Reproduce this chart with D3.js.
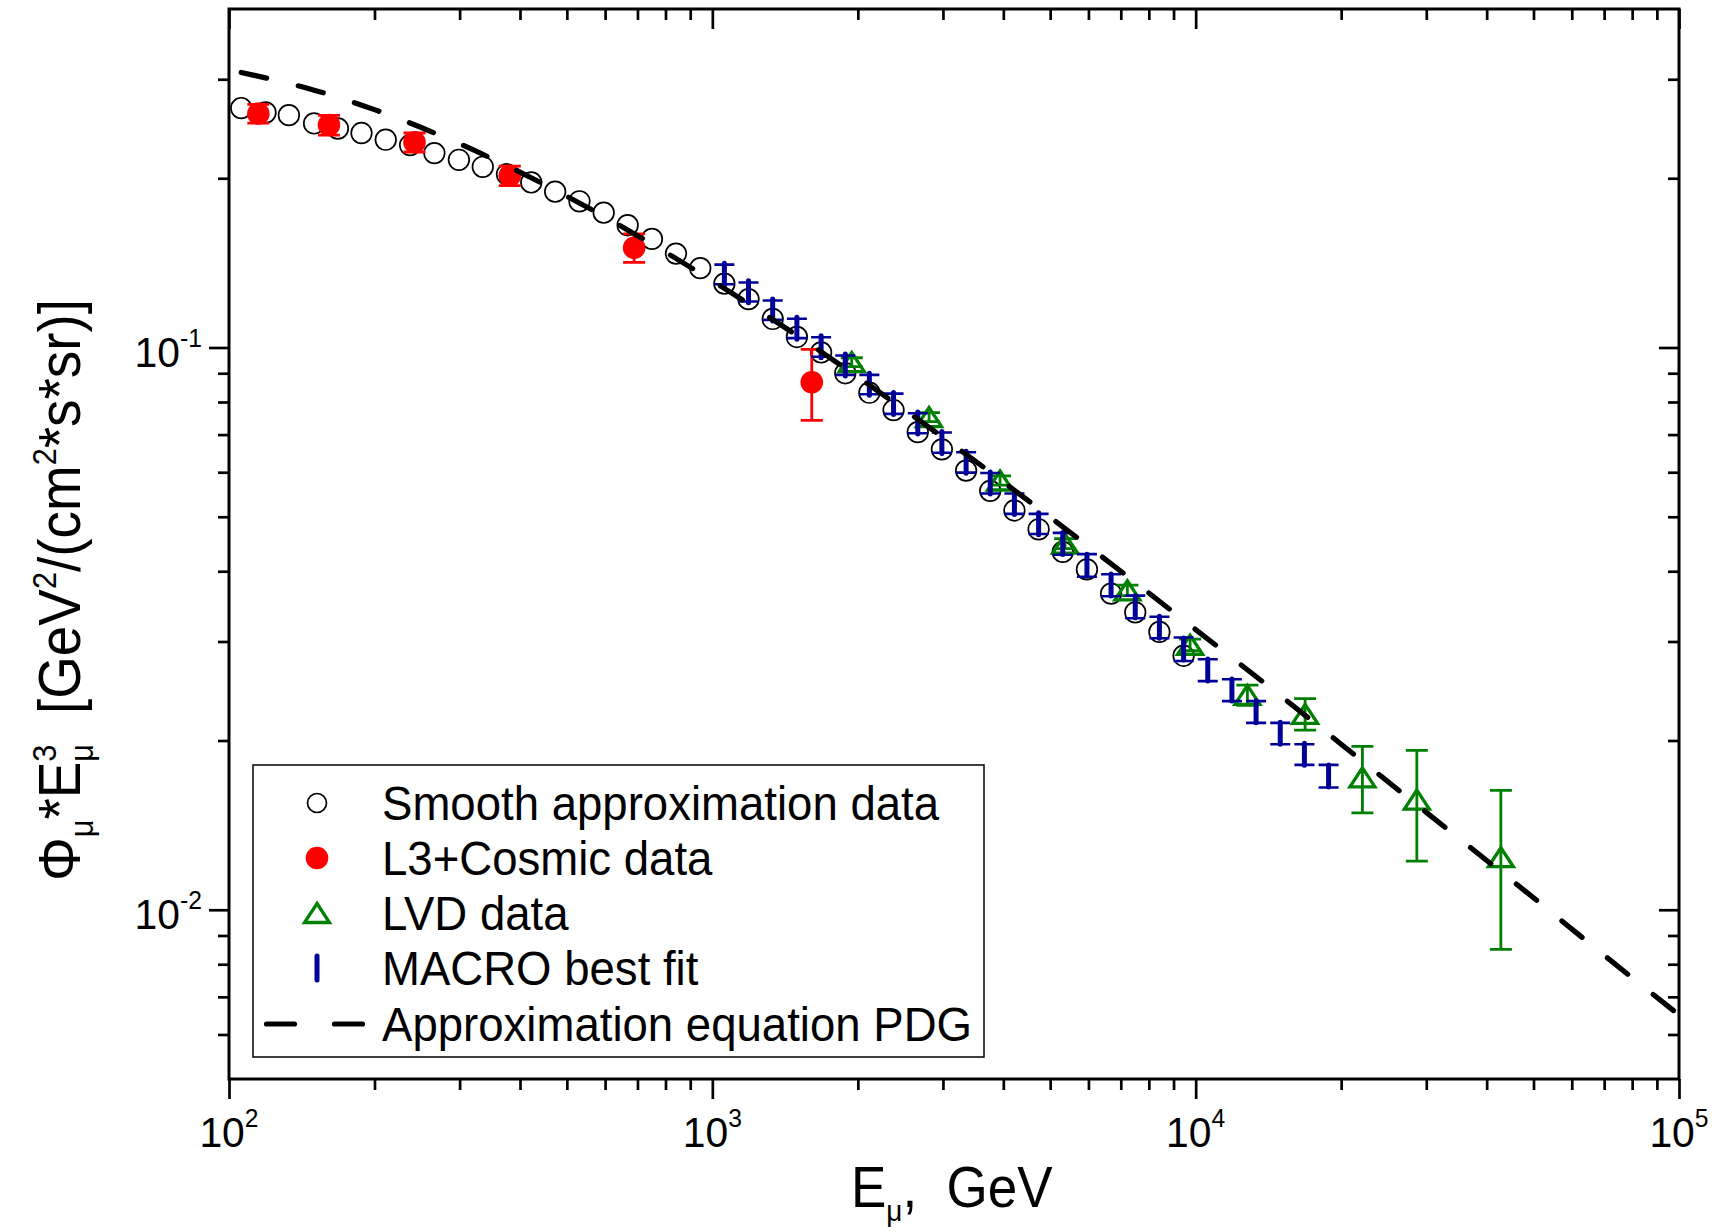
<!DOCTYPE html>
<html>
<head>
<meta charset="utf-8">
<script src="https://cdn.jsdelivr.net/npm/d3@7"></script>
<style>
  body { margin: 0; background: #fff; }
  svg { display: block; }
  text { font-family: "Liberation Sans", Arial, sans-serif; fill: #000; }
</style>
</head>
<body>
<div id="chart"></div>
<script>
// muon flux * E^3 versus muon energy

const width = 1727;
const height = 1232;
const margin = { top: 9, right: 48, bottom: 153, left: 229 };

// Smooth approximation data (open circles)
const smoothE = [106, 119, 133, 150, 168, 188, 211, 237, 266, 299, 335, 376, 422, 473, 531, 596, 668, 750, 841, 944,
    1059, 1188, 1333, 1496, 1679, 1884, 2113, 2371, 2661, 2985, 3350, 3758, 4217, 4732, 5309, 5957, 6683, 7499, 8414, 9441];
const smoothFlux = [0.2666, 0.2618, 0.2590, 0.2503, 0.2452, 0.2407, 0.2342, 0.2291, 0.2217, 0.2157, 0.2096, 0.2033, 0.1966,
    0.1893, 0.1820, 0.1737, 0.1650, 0.1560, 0.1469, 0.1384, 0.1299, 0.1219, 0.1124, 0.1044, 0.0980, 0.0900, 0.0831, 0.0774,
    0.0707, 0.0659, 0.0604, 0.0556, 0.0513, 0.0475, 0.0433, 0.0403, 0.0365, 0.0338, 0.0312, 0.0283];

// L3+Cosmic data
const l3E = [115, 161, 242, 381, 689, 1606];
const l3Flux = [0.2606, 0.2487, 0.2317, 0.2021, 0.1505, 0.0867];
const l3Err = [0.010, 0.010, 0.009, 0.008, 0.0088, 0.0125];

// LVD data
const lvdE = [1943, 2808, 3938, 5369, 7223, 9737, 12794, 16843, 22130, 28682, 42800];
const lvdFlux = [0.0942, 0.0752, 0.0580, 0.0448, 0.0370, 0.0296, 0.0241, 0.0223, 0.0172, 0.0157, 0.0124];
const lvdErr = [0.0017, 0.0014, 0.0011, 0.0009, 0.0008, 0.0007, 0.0010, 0.00144, 0.00233, 0.0035, 0.0039];

// MACRO best fit
const macroE = [1059, 1188, 1333, 1496, 1679, 1884, 2113, 2371, 2661, 2985, 3350, 3758, 4217, 4732, 5309, 5957,
    6683, 7499, 8414, 9441, 10593, 11885, 13335, 14962, 16788, 18836];
const macroFlux = [0.1350, 0.1256, 0.1166, 0.1082, 0.1003, 0.0931, 0.0860, 0.0795, 0.0734, 0.0678, 0.0625, 0.0574,
    0.0528, 0.0486, 0.0448, 0.0410, 0.0378, 0.0346, 0.0318, 0.0291, 0.0267, 0.0246, 0.0225, 0.0206, 0.0189, 0.0173];
const macroErr = [0.0054, 0.0049, 0.0046, 0.0043, 0.0040, 0.0037, 0.0034, 0.0033, 0.0030, 0.0028, 0.0026, 0.0024,
    0.0022, 0.0020, 0.0020, 0.0019, 0.0017, 0.0016, 0.0014, 0.0014, 0.0012, 0.0011, 0.0010, 0.0009, 0.0008, 0.0008];

// Approximation equation PDG (dashed curve)
const pdgE = [106, 150, 200, 300, 500, 700, 1000, 1500, 2000, 3000, 5000, 7000, 10000, 15000, 20000, 30000, 50000, 70000, 100000];
const pdgFlux = [0.3085, 0.2869, 0.2649, 0.2303, 0.1858, 0.1581, 0.1314, 0.1049, 0.0886, 0.0692, 0.0499, 0.0400,
    0.0315, 0.0240, 0.0197, 0.0149, 0.0105, 0.0083, 0.0065];

// axis ticks
const xMajor = [1e2, 1e3, 1e4, 1e5];
const xMajorExp = ["2", "3", "4", "5"];
const xMinor = [200, 300, 400, 500, 600, 700, 800, 900, 2000, 3000, 4000, 5000, 6000, 7000, 8000, 9000,
    20000, 30000, 40000, 50000, 60000, 70000, 80000, 90000];
const yMajor = [0.1, 0.01];
const yMajorExp = ["-1", "-2"];
const yMinor = [0.006, 0.007, 0.008, 0.009, 0.02, 0.03, 0.04, 0.05, 0.06, 0.07, 0.08, 0.09, 0.2, 0.3];

const legendLabels = ["Smooth approximation data", "L3+Cosmic data", "LVD data", "MACRO best fit", "Approximation equation PDG"];

const RED = "#ff0000", GREEN = "#008000", BLUE = "#000098";

const x = d3.scaleLog().domain([100, 1e5]).range([margin.left, width - margin.right]);
const y = d3.scaleLog().domain([0.005, 0.4]).range([height - margin.bottom, margin.top]);

const svg = d3.select("#chart").append("svg")
    .attr("width", width)
    .attr("height", height)
    .attr("viewBox", [0, 0, width, height]);

svg.append("rect").attr("width", width).attr("height", height).attr("fill", "#fff");

// axes: ticks out on bottom/left, in on top/right
function drawAxis(axisFn, scale, transform, major, minor, majorSize, minorSize) {
    const gMajor = svg.append("g").attr("transform", transform)
        .call(axisFn(scale).tickValues(major).tickSize(majorSize).tickSizeOuter(0).tickFormat(""));
    const gMinor = svg.append("g").attr("transform", transform)
        .call(axisFn(scale).tickValues(minor).tickSize(minorSize).tickSizeOuter(0).tickFormat(""));
    [gMajor, gMinor].forEach(g => {
        g.select(".domain").remove();
        g.selectAll(".tick line").attr("stroke", "#000").attr("stroke-width", 2.7);
    });
}

const x0 = margin.left, x1 = width - margin.right;
const y0 = margin.top, y1 = height - margin.bottom;

drawAxis(d3.axisBottom, x, `translate(0,${y1})`, xMajor, xMinor, 20, 11);
drawAxis(d3.axisTop, x, `translate(0,${y0})`, xMajor, xMinor, -20, -11);
drawAxis(d3.axisLeft, y, `translate(${x0},0)`, yMajor, yMinor, 20, 11);
drawAxis(d3.axisRight, y, `translate(${x1},0)`, yMajor, yMinor, -20, -11);

svg.append("rect")
    .attr("x", x0).attr("y", y0)
    .attr("width", x1 - x0).attr("height", y1 - y0)
    .attr("fill", "none").attr("stroke", "#000").attr("stroke-width", 3);

// tick labels (slightly condensed like the original)
xMajor.forEach((v, i) => {
    const t = svg.append("text")
        .attr("transform", `translate(${x(v)},${y1 + 68}) scale(0.95,1)`)
        .attr("text-anchor", "middle")
        .attr("font-size", 43);
    t.append("tspan").text("10");
    t.append("tspan").attr("font-size", 26).attr("dy", -20).text(xMajorExp[i]);
});
yMajor.forEach((v, i) => {
    const t = svg.append("text")
        .attr("transform", `translate(${x0 - 27},${y(v) + 19}) scale(0.95,1)`)
        .attr("text-anchor", "end")
        .attr("font-size", 43);
    t.append("tspan").text("10");
    t.append("tspan").attr("font-size", 26).attr("dy", -20).text(yMajorExp[i]);
});

// axis titles
const xt = svg.append("text")
    .attr("transform", "translate(851,1207) scale(0.93,1)")
    .attr("font-size", 57);
xt.append("tspan").text("E");
xt.append("tspan").attr("font-size", 30).attr("dy", 14).text("\u03bc");
xt.append("tspan").attr("dy", -14).text(",\u00a0\u00a0GeV");

const yt = svg.append("text")
    .attr("transform", "translate(80,590) rotate(-90) scale(0.93,1)")
    .attr("text-anchor", "middle")
    .attr("font-size", 59);
yt.append("tspan").text("\u03a6");
yt.append("tspan").attr("font-size", 33).attr("dy", 13).text("\u03bc");
yt.append("tspan").attr("dy", -13).text("*E");
yt.append("tspan").attr("font-size", 33).attr("dy", 13).text("\u03bc");
yt.append("tspan").attr("font-size", 33).attr("dx", -19).attr("dy", -37).text("3");
yt.append("tspan").attr("dy", 24).text("\u00a0\u00a0[GeV");
yt.append("tspan").attr("font-size", 33).attr("dy", -24).text("2");
yt.append("tspan").attr("dy", 24).text("/(cm");
yt.append("tspan").attr("font-size", 33).attr("dy", -24).text("2");
yt.append("tspan").attr("dy", 24).text("*s*sr)]");

// data layers
const plot = svg.append("g");

const smooth = smoothE.map((e, i) => ({ e, v: smoothFlux[i] }));
const l3 = l3E.map((e, i) => ({ e, v: l3Flux[i], err: l3Err[i] }));
const lvd = lvdE.map((e, i) => ({ e, v: lvdFlux[i], err: lvdErr[i] }));
const macro = macroE.map((e, i) => ({ e, v: macroFlux[i], err: macroErr[i] }));
const pdg = pdgE.map((e, i) => ({ e, v: pdgFlux[i] }));

function errorBars(data, color, capHalf, sw) {
    const g = plot.append("g").attr("stroke", color).attr("stroke-width", sw).attr("fill", "none");
    g.selectAll("path")
        .data(data)
        .join("path")
        .attr("d", d => {
            const cx = x(d.e), ya = y(d.v + d.err), yb = y(d.v - d.err);
            return `M${cx},${ya}V${yb}M${cx - capHalf},${ya}H${cx + capHalf}M${cx - capHalf},${yb}H${cx + capHalf}`;
        });
}

plot.append("g").selectAll("circle")
    .data(smooth)
    .join("circle")
    .attr("cx", d => x(d.e)).attr("cy", d => y(d.v)).attr("r", 10.3)
    .attr("fill", "none").attr("stroke", "#000").attr("stroke-width", 1.7);

errorBars(l3, RED, 11, 2.8);
plot.append("g").selectAll("circle")
    .data(l3)
    .join("circle")
    .attr("cx", d => x(d.e)).attr("cy", d => y(d.v)).attr("r", 11.3)
    .attr("fill", RED);

const tri = "M0,-9.5L12.5,9.5L-12.5,9.5Z";
errorBars(lvd, GREEN, 11, 2.8);
plot.append("g").selectAll("path")
    .data(lvd)
    .join("path")
    .attr("d", tri)
    .attr("transform", d => `translate(${x(d.e)},${y(d.v)})`)
    .attr("fill", "none").attr("stroke", GREEN).attr("stroke-width", 3.3).attr("stroke-linejoin", "miter");

errorBars(macro, BLUE, 10, 2.6);
plot.append("g").selectAll("line")
    .data(macro)
    .join("line")
    .attr("x1", d => x(d.e)).attr("x2", d => x(d.e))
    .attr("y1", d => y(d.v) - 11).attr("y2", d => y(d.v) + 11)
    .attr("stroke", BLUE).attr("stroke-width", 5).attr("stroke-linecap", "round");

const line = d3.line().x(d => x(d.e)).y(d => y(d.v)).curve(d3.curveMonotoneX);
plot.append("path")
    .datum(pdg)
    .attr("d", line)
    .attr("fill", "none").attr("stroke", "#000").attr("stroke-width", 5.2)
    .attr("stroke-linecap", "round").attr("stroke-dasharray", "26,32.6");

// legend
const legend = svg.append("g");
legend.append("rect")
    .attr("x", 253).attr("y", 765).attr("width", 731).attr("height", 292)
    .attr("fill", "#fff").attr("stroke", "#000").attr("stroke-width", 1.5);

const rowY = [803, 858, 913, 968, 1024];
const symX = 317;
legendLabels.forEach((lab, i) => {
    legend.append("text")
        .attr("transform", `translate(382,${rowY[i] + 17}) scale(0.93,1)`)
        .attr("font-size", 49)
        .text(lab);
});
legend.append("circle").attr("cx", symX).attr("cy", rowY[0]).attr("r", 9.5)
    .attr("fill", "none").attr("stroke", "#000").attr("stroke-width", 1.7);
legend.append("circle").attr("cx", symX).attr("cy", rowY[1]).attr("r", 11.3).attr("fill", RED);
legend.append("path").attr("d", tri).attr("transform", `translate(${symX},${rowY[2]})`)
    .attr("fill", "none").attr("stroke", GREEN).attr("stroke-width", 3.3);
legend.append("line").attr("x1", symX).attr("x2", symX)
    .attr("y1", rowY[3] - 12).attr("y2", rowY[3] + 12)
    .attr("stroke", BLUE).attr("stroke-width", 5).attr("stroke-linecap", "round");
legend.append("line").attr("x1", 266.5).attr("x2", 363)
    .attr("y1", rowY[4]).attr("y2", rowY[4])
    .attr("stroke", "#000").attr("stroke-width", 5.2)
    .attr("stroke-linecap", "round").attr("stroke-dasharray", "28,40");
</script>
</body>
</html>
